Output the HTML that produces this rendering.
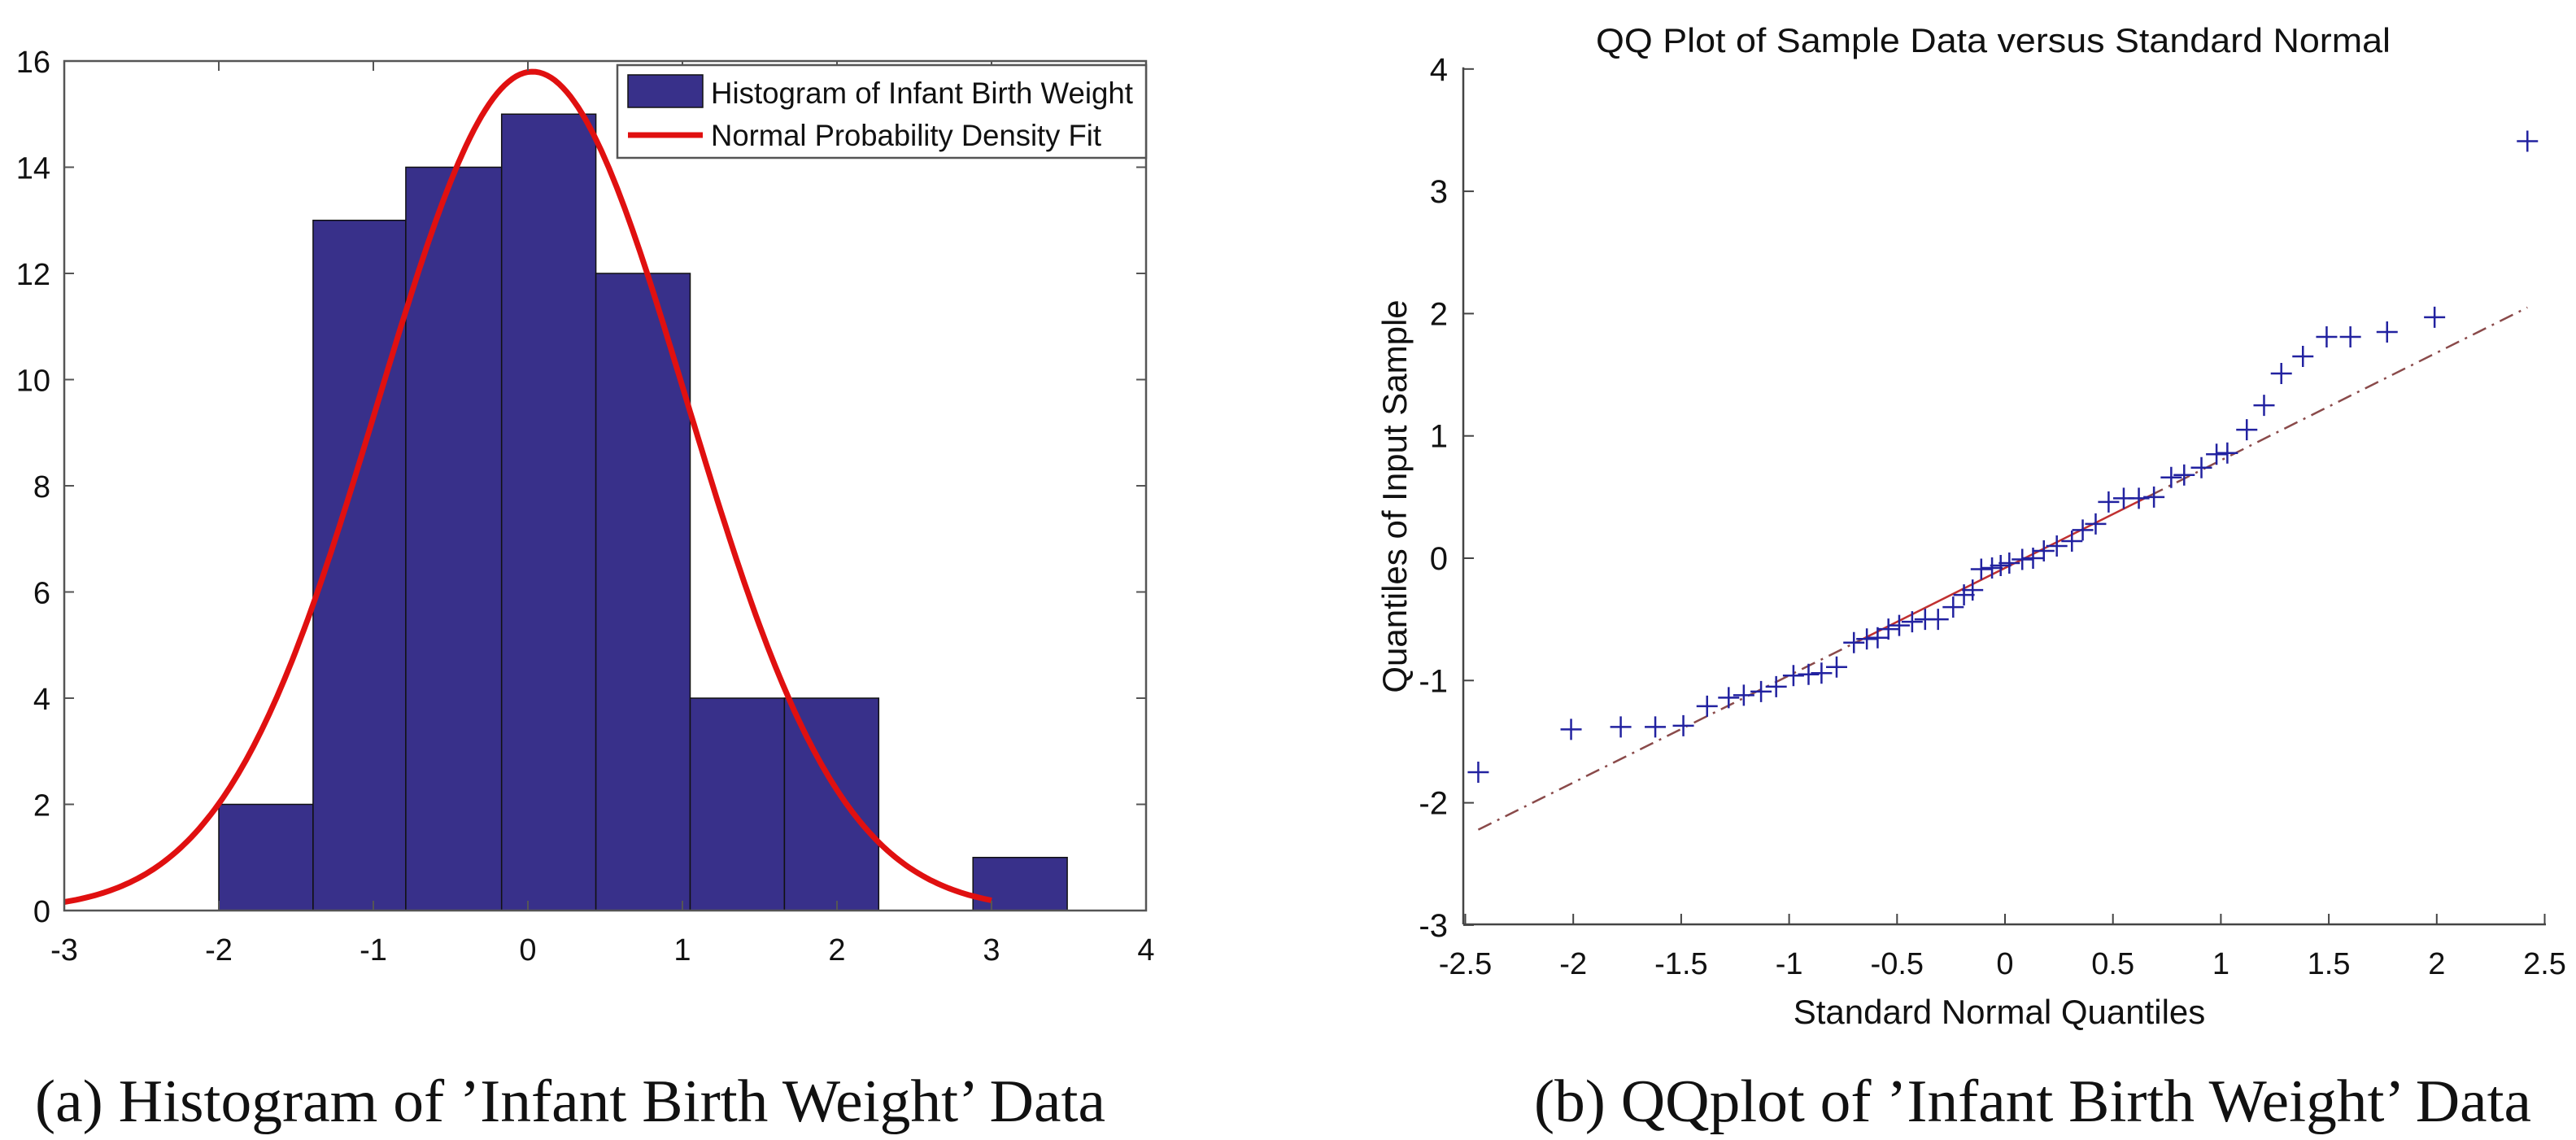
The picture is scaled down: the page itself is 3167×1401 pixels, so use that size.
<!DOCTYPE html>
<html><head><meta charset="utf-8"><style>
html,body{margin:0;padding:0;background:#fff;}
svg{display:block;}
text{font-family:"Liberation Sans",sans-serif;fill:#111;}
.cap{font-family:"Liberation Serif",serif;}
</style></head><body>
<svg id="fig" width="3167" height="1401" viewBox="0 0 3167 1401">
<g id="left"></g>
<g id="right"></g>
<text class="cap" x="43" y="1378" font-size="74" textLength="1316" lengthAdjust="spacingAndGlyphs">(a) Histogram of ’Infant Birth Weight’ Data</text>
<text class="cap" x="1886" y="1378" font-size="74" textLength="1226" lengthAdjust="spacingAndGlyphs">(b) QQplot of ’Infant Birth Weight’ Data</text>
</svg>
<script>
// Histogram data
const binEdges = [-2.0, -1.39, -0.79, -0.17, 0.44, 1.05, 1.66, 2.27, 2.88, 3.49];
const binCounts = [2, 13, 14, 15, 12, 4, 4, 0, 1];
const histXTicks = [-3, -2, -1, 0, 1, 2, 3, 4];
const histYTicks = [0, 2, 4, 6, 8, 10, 12, 14, 16];
const fitMean = [0.03];
const fitSigma = [1.0];
const fitScale = [15.8]; // peak height
// QQ data
const qqX = [-2.44,-2.01,-1.78,-1.62,-1.49,-1.38,-1.28,-1.21,-1.13,-1.06,-0.98,-0.91,-0.85,-0.78,-0.70,-0.64,-0.59,-0.54,-0.49,-0.43,-0.37,-0.31,-0.24,-0.19,-0.15,-0.11,-0.06,-0.02,0.02,0.08,0.13,0.18,0.24,0.31,0.36,0.42,0.48,0.55,0.62,0.69,0.77,0.83,0.91,0.98,1.03,1.12,1.20,1.28,1.38,1.49,1.60,1.77,1.99,2.42];
const qqY = [-1.75,-1.40,-1.38,-1.38,-1.37,-1.21,-1.14,-1.12,-1.09,-1.05,-0.96,-0.95,-0.94,-0.89,-0.69,-0.66,-0.65,-0.58,-0.55,-0.52,-0.50,-0.50,-0.40,-0.30,-0.26,-0.09,-0.08,-0.06,-0.04,-0.01,0.00,0.06,0.10,0.14,0.23,0.28,0.46,0.49,0.49,0.50,0.66,0.68,0.74,0.85,0.86,1.05,1.25,1.51,1.65,1.81,1.81,1.85,1.97,3.41];
const refLineX = [-2.44, -0.67, 0.67, 2.42];
const refLineY = [-2.22, -0.67, 0.51, 2.05];
const qqXTicks = [-2.5,-2,-1.5,-1,-0.5,0,0.5,1,1.5,2,2.5];
const qqYTicks = [-3,-2,-1,0,1,2,3,4];

const NS = "http://www.w3.org/2000/svg";
function mk(parent, tag, attrs){const e=document.createElementNS(NS,tag);for(const k in attrs)e.setAttribute(k,attrs[k]);parent.appendChild(e);return e;}

// ---- left chart
const L = document.getElementById('left');
const lx = v => 79 + (v + 3) * (1409 - 79) / 7;
const ly = v => 1119 - v * (1119 - 75) / 16;
binCounts.forEach((c,i)=>{
  if(c<=0) return;
  const r = mk(L,'rect',{x:lx(binEdges[i]),y:ly(c),width:lx(binEdges[i+1])-lx(binEdges[i]),height:ly(0)-ly(c),fill:'#38308a',stroke:'#111','stroke-width':1.5});
  
  
});
let d='';
for(let i=0;i<=240;i++){const x=-3+6*i/240;const y=fitScale[0]*Math.exp(-0.5*Math.pow((x-fitMean[0])/fitSigma[0],2));d+=(i?'L':'M')+lx(x).toFixed(1)+' '+ly(y).toFixed(1);}
const curve=mk(L,'path',{d:d,fill:'none',stroke:'#e01010','stroke-width':7});


const box=mk(L,'rect',{x:79,y:75,width:1330,height:1044,fill:'none',stroke:'#555','stroke-width':2.5});


histXTicks.forEach(t=>{
  mk(L,'line',{x1:lx(t),x2:lx(t),y1:1119,y2:1107,stroke:'#555','stroke-width':2});
  mk(L,'line',{x1:lx(t),x2:lx(t),y1:75,y2:87,stroke:'#555','stroke-width':2});
  const tx=mk(L,'text',{x:lx(t),y:1180,'font-size':38,'text-anchor':'middle'});tx.textContent=t;
  
  
});
histYTicks.forEach(t=>{
  mk(L,'line',{x1:79,x2:91,y1:ly(t),y2:ly(t),stroke:'#555','stroke-width':2});
  mk(L,'line',{x1:1409,x2:1397,y1:ly(t),y2:ly(t),stroke:'#555','stroke-width':2});
  const tx=mk(L,'text',{x:62,y:ly(t)+14,'font-size':38,'text-anchor':'end'});tx.textContent=t;
  
  
});
// legend
const lg=mk(L,'g',{});


mk(lg,'rect',{x:759,y:80,width:650,height:114,fill:'#fff',stroke:'#555','stroke-width':2.5});
mk(lg,'rect',{x:772,y:92,width:92,height:40,fill:'#38308a',stroke:'#111','stroke-width':1.5});
mk(lg,'line',{x1:772,x2:864,y1:166,y2:166,stroke:'#e01010','stroke-width':7});
const t1=mk(lg,'text',{x:874,y:127,'font-size':37,textLength:519,lengthAdjust:'spacingAndGlyphs'});t1.textContent='Histogram of Infant Birth Weight';


const t2=mk(lg,'text',{x:874,y:179,'font-size':37,textLength:480,lengthAdjust:'spacingAndGlyphs'});t2.textContent='Normal Probability Density Fit';



// ---- right chart
const R=document.getElementById('right');
const rx = v => 2465 + v * 265.4;
const ry = v => 686 - v * 150.3;
const ttl=mk(R,'text',{x:1962,y:64,'font-size':42,textLength:977,lengthAdjust:'spacingAndGlyphs'});ttl.textContent='QQ Plot of Sample Data versus Standard Normal';


const ax1=mk(R,'line',{x1:1799,x2:1799,y1:ry(4)-2,y2:1136,stroke:'#444','stroke-width':2.5});


const ax2=mk(R,'line',{x1:1799,x2:3130,y1:1136,y2:1136,stroke:'#444','stroke-width':2.5});


qqXTicks.forEach(t=>{
  mk(R,'line',{x1:rx(t),x2:rx(t),y1:1136,y2:1123,stroke:'#444','stroke-width':2});
  const tx=mk(R,'text',{x:rx(t),y:1197,'font-size':38,'text-anchor':'middle'});tx.textContent=t;
  
  
});
qqYTicks.forEach(t=>{
  mk(R,'line',{x1:1799,x2:1812,y1:ry(t),y2:ry(t),stroke:'#444','stroke-width':2});
  const tx=mk(R,'text',{x:1780,y:ry(t)+14,'font-size':40,'text-anchor':'end'});tx.textContent=t;
  
  
});
const xt=mk(R,'text',{x:2458,y:1258,'font-size':42,'text-anchor':'middle'});xt.textContent='Standard Normal Quantiles';


const yt=mk(R,'text',{x:0,y:0,'font-size':42,'text-anchor':'middle',transform:'translate(1729,610) rotate(-90)'});yt.textContent='Quantiles of Input Sample';


// reference line
const segs=[[0,1,'18 8 3 8'],[1,2,''],[2,3,'18 8 3 8']];
segs.forEach(s=>{
  const a={x1:rx(refLineX[s[0]]),y1:ry(refLineY[s[0]]),x2:rx(refLineX[s[1]]),y2:ry(refLineY[s[1]]),stroke:s[2]?'#8a4a4a':'#c03030','stroke-width':2.5};
  if(s[2])a['stroke-dasharray']=s[2];
  const ln=mk(R,'line',a);
  
  
});
qqX.forEach((x,i)=>{
  const cx=rx(x),cy=ry(qqY[i]);
  const p=mk(R,'path',{d:`M${cx-13} ${cy}H${cx+13}M${cx} ${cy-13}V${cy+13}`,stroke:'#2222a0','stroke-width':2.5,fill:'none'});
  
  
});
</script>
</body></html>
